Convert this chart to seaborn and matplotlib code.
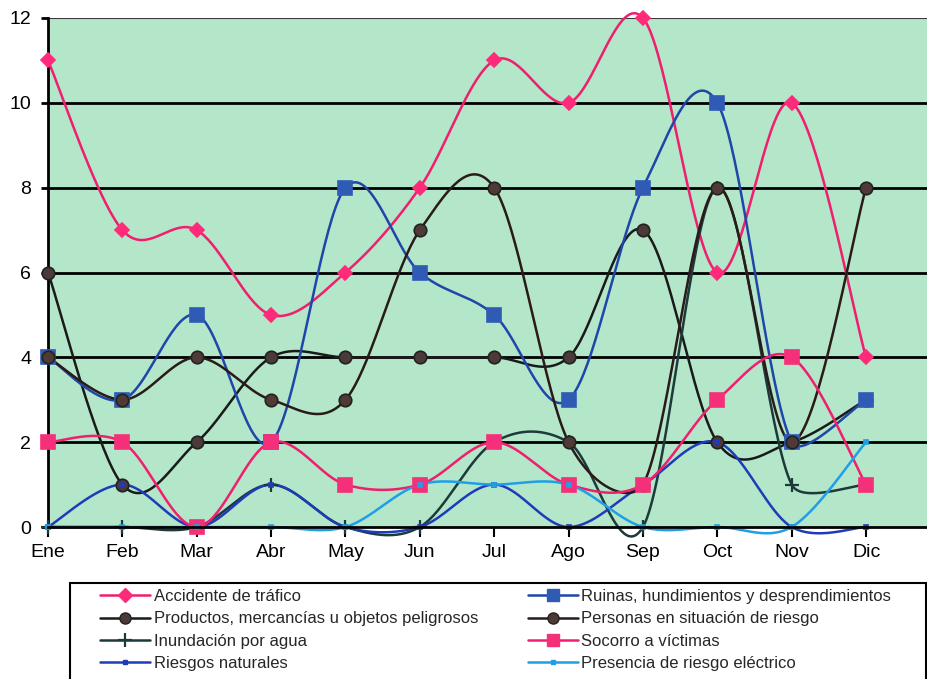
import numpy as np
import pandas as pd
import matplotlib
matplotlib.use("Agg")
import matplotlib.pyplot as plt
from matplotlib.lines import Line2D
from matplotlib.patches import Rectangle
import seaborn as sns

months = ['Ene', 'Feb', 'Mar', 'Abr', 'May', 'Jun', 'Jul', 'Ago', 'Sep', 'Oct', 'Nov', 'Dic']

accidente = [11, 7, 7, 5, 6, 8, 11, 10, 12, 6, 10, 4]
ruinas = [4, 3, 5, 2, 8, 6, 5, 3, 8, 10, 2, 3]
productos = [6, 1, 2, 4, 4, 4, 4, 4, 7, 2, 2, 3]
personas = [4, 3, 4, 3, 3, 7, 8, 2, 1, 8, 2, 8]
inundacion = [0, 0, 0, 1, 0, 0, 2, 2, 0, 8, 1, 1]
socorro = [2, 2, 0, 2, 1, 1, 2, 1, 1, 3, 4, 1]
riesgos = [0, 1, 0, 1, 0, 0, 1, 0, 1, 2, 0, 0]
electrico = [0, 0, 0, 0, 0, 1, 1, 1, 0, 0, 0, 2]

series = [
    # name, values, line colour, marker, marker face, marker size
    ('Accidente de tráfico', accidente, '#f01e6e', 'D', '#ff2a7a', 7),
    ('Productos, mercancías u objetos peligrosos', productos, '#1a1a1a', 'o', '#4a3a38', 9),
    ('Inundación por agua', inundacion, '#1d3a3a', '+', '#1d3a3a', 10),
    ('Riesgos naturales', riesgos, '#1f3cb8', 's', '#1f3cb8', 3),
    ('Ruinas, hundimientos y desprendimientos', ruinas, '#1f46a8', 's', '#2f5bb5', 10),
    ('Personas en situación de riesgo', personas, '#2a1a1a', 'o', '#4f3a36', 9),
    ('Socorro a víctimas', socorro, '#f01e6e', 's', '#f5307a', 10),
    ('Presencia de riesgo eléctrico', electrico, '#1e9fe6', 's', '#1e9fe6', 3),
]

SX, SY = 74.4, 42.4  # screen scale used for the smoothing


def smooth(vals, n=40):
    # catmull-rom style bezier in screen space; control arm shortened
    # when the next chord is much shorter than the previous one
    p = np.column_stack([np.arange(len(vals)) * SX, np.asarray(vals, float) * SY])
    m = len(p)
    tang = np.zeros_like(p)
    din = np.zeros(m)
    dout = np.zeros(m)
    for i in range(m):
        a = p[max(i - 1, 0)]
        b = p[min(i + 1, m - 1)]
        tang[i] = (b - a) / 6
        din[i] = np.hypot(*(p[i] - a))
        dout[i] = np.hypot(*(b - p[i]))

    def fac(dthis, dother):
        if dthis == 0 or dother == 0:
            return 1.0
        w = 2 * dthis / (dthis + dother)
        return 1.0 if w > 0.45 else w

    t = np.linspace(0, 1, n)[:, None]
    out = []
    for i in range(m - 1):
        p1, p2 = p[i], p[i + 1]
        c1 = p1 + tang[i] * fac(dout[i], din[i])
        c2 = p2 - tang[i + 1] * fac(din[i + 1], dout[i + 1])
        seg = ((1 - t) ** 3) * p1 + 3 * ((1 - t) ** 2) * t * c1 + 3 * (1 - t) * t ** 2 * c2 + t ** 3 * p2
        out.append(seg if i == 0 else seg[1:])
    c = np.vstack(out)
    return c[:, 0] / SX, c[:, 1] / SY


sns.set_style("white")
plt.rcParams['font.family'] = ['Liberation Sans', 'DejaVu Sans']

fig = plt.figure(figsize=(9.27, 6.79), dpi=100)
ax = fig.add_axes([48 / 927, 1 - 527 / 679, 1 - 48 / 927, (527 - 18) / 679])
ax.set_facecolor('#b4e6c9')

for y in range(2, 12, 2):
    ax.axhline(y, color='black', lw=2, zorder=1)
ax.axhline(12, color='#3a3a3a', lw=1.5, zorder=1)

# draw order: bottom first
order = [7, 3, 2, 6, 5, 1, 4, 0]
for k in order:
    name, vals, col, mk, mface, ms = series[k]
    cx, cy = smooth(vals)
    d = pd.DataFrame({'x': cx, 'y': cy})
    sns.lineplot(data=d, x='x', y='y', ax=ax, color=col, lw=1.8, sort=False,
                 estimator=None, zorder=3 + k * 0.1, clip_on=False)
    pts = pd.DataFrame({'x': np.arange(len(vals)), 'y': vals})
    if mk == '+':
        ax.plot(pts['x'], pts['y'], ls='none', marker='+', ms=ms, mew=1.6,
                color=col, zorder=4, clip_on=False)
    else:
        ax.plot(pts['x'], pts['y'], ls='none', marker=mk, ms=ms, mfc=mface,
                mec='#222222' if mk == 'o' else mface, mew=1.2, zorder=4 + k * 0.1,
                clip_on=False)

ax.set_xlim(0, 11.82)
ax.set_ylim(0, 12)
ax.set_xticks(range(12))
ax.set_xticklabels(months)
ax.set_yticks(range(0, 13, 2))
ax.set_xlabel('')
ax.set_ylabel('')
ax.tick_params(axis='x', labelsize=14, length=7, width=1.5, direction='out', pad=5)
ax.tick_params(axis='y', labelsize=14, length=5, width=2, direction='out', pad=7)
ax.tick_params(axis='both', colors='black', bottom=True, left=True)
for s in ['top', 'right']:
    ax.spines[s].set_visible(False)
for s in ['left', 'bottom']:
    ax.spines[s].set_color('black')
    ax.spines[s].set_linewidth(2)
ax.spines['bottom'].set_zorder(5)

handles = []
for name, vals, col, mk, mface, ms in series:
    if mk == '+':
        h = Line2D([], [], color=col, lw=1.8, marker='+', ms=10, mew=1.6)
    else:
        h = Line2D([], [], color=col, lw=1.8, marker=mk, ms=min(ms, 8), mfc=mface,
                   mec='#222222' if mk == 'o' else mface)
    handles.append(h)

# legend frame drawn by hand so it runs off the bottom edge
fig.patches.append(Rectangle((70 / 927, -0.05), (926 - 70) / 927, 0.05 + 1 - 583 / 679,
                             transform=fig.transFigure, fill=False, edgecolor='black',
                             linewidth=1.5))
leg = fig.legend(handles, [s[0] for s in series], loc='upper left',
                 bbox_to_anchor=(92 / 927, 1 - 581 / 679), ncol=2, frameon=False,
                 fontsize=12, handlelength=3.0, handletextpad=0.2,
                 labelspacing=0.43, borderpad=0.0, columnspacing=2.98)

fig.savefig('out.png', dpi=100, facecolor='white')
